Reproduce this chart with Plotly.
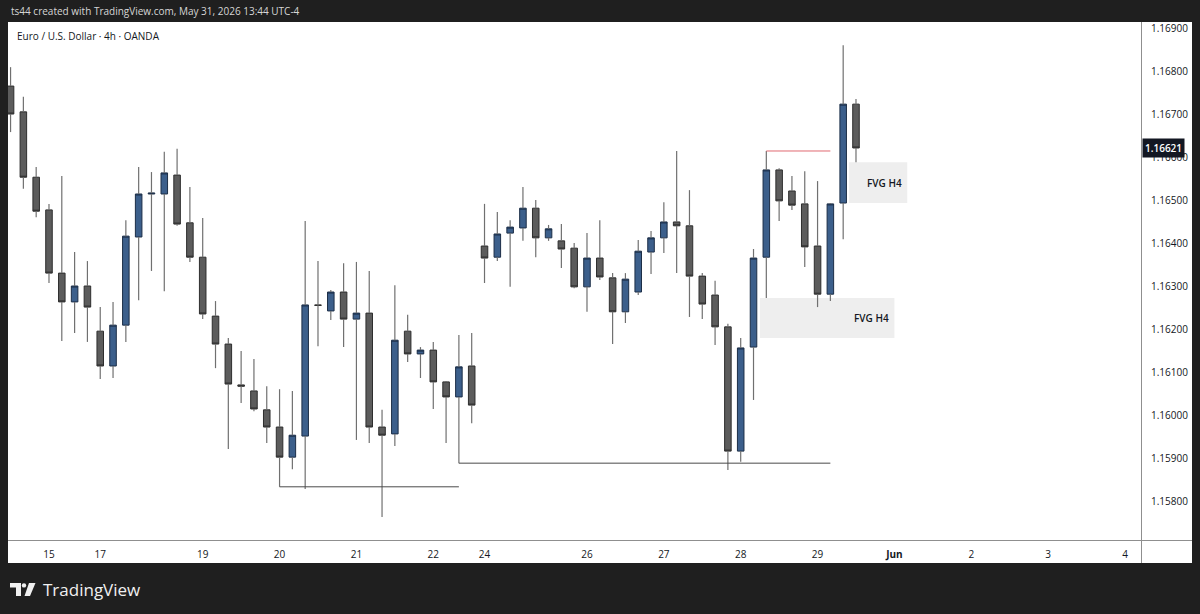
import plotly.graph_objects as go

W, H = 1200, 614

# ---- data (EUR/USD 4h, OANDA) : bar index 0 = Thu May 14 13:00 ----
opens = [1.16765, 1.16705, 1.16553, 1.16477, 1.16330, 1.16263, 1.16300, 1.16195, 1.16114, 1.16209,
         1.16414, 1.16514, 1.16514, 1.16558, 1.16447, 1.16367, 1.16230, 1.16165, 1.16070, 1.16056,
         1.16012, 1.15972, 1.15902, 1.15951, 1.16256, 1.16242, 1.16286, 1.16223, 1.16237, 1.15972,
         1.15956, 1.16195, 1.16142, 1.16151, 1.16077, 1.16042, 1.16114, 1.16393, 1.16367, 1.16423,
         1.16435, 1.16481, 1.16412, 1.16405, 1.16388, 1.16298, 1.16365, 1.16319, 1.16240, 1.16286,
         1.16379, 1.16412, 1.16449, 1.16440, 1.16323, 1.16279, 1.16205, 1.15916, 1.16158, 1.16367,
         1.16570, 1.16521, 1.16491, 1.16393, 1.16281, 1.16493, 1.16723]
highs = [1.16809, 1.16740, 1.16577, 1.16491, 1.16556, 1.16379, 1.16358, 1.16251, 1.16263, 1.16453,
         1.16577, 1.16565, 1.16612, 1.16619, 1.16530, 1.16458, 1.16265, 1.16179, 1.16149, 1.16130,
         1.16067, 1.16060, 1.16056, 1.16451, 1.16358, 1.16291, 1.16353, 1.16356, 1.16335, 1.16012,
         1.16302, 1.16233, 1.16158, 1.16170, 1.16079, 1.16186, 1.16191, 1.16491, 1.16472, 1.16453,
         1.16530, 1.16500, 1.16442, 1.16444, 1.16400, 1.16423, 1.16453, 1.16330, 1.16330, 1.16407,
         1.16428, 1.16495, 1.16614, 1.16523, 1.16330, 1.16312, 1.16212, 1.16179, 1.16386, 1.16614,
         1.16574, 1.16556, 1.16567, 1.16544, 1.16493, 1.16860, 1.16735]
lows = [1.16658, 1.16526, 1.16460, 1.16307, 1.16172, 1.16191, 1.16170, 1.16084, 1.16086, 1.16170,
        1.16267, 1.16335, 1.16288, 1.16440, 1.16356, 1.16223, 1.16109, 1.15921, 1.16028, 1.16009,
        1.15935, 1.15833, 1.15874, 1.15828, 1.16160, 1.16221, 1.16158, 1.15942, 1.15935, 1.15763,
        1.15928, 1.16123, 1.16086, 1.16014, 1.15935, 1.15888, 1.15981, 1.16307, 1.16358, 1.16298,
        1.16405, 1.16367, 1.16405, 1.16342, 1.16295, 1.16240, 1.16314, 1.16165, 1.16214, 1.16279,
        1.16328, 1.16377, 1.16330, 1.16228, 1.16223, 1.16163, 1.15872, 1.15891, 1.16035, 1.16272,
        1.16451, 1.16477, 1.16344, 1.16251, 1.16265, 1.16409, 1.16588]
closes = [1.16700, 1.16553, 1.16474, 1.16330, 1.16263, 1.16300, 1.16251, 1.16114, 1.16209, 1.16416,
          1.16514, 1.16516, 1.16563, 1.16444, 1.16367, 1.16235, 1.16165, 1.16072, 1.16067, 1.16014,
          1.15972, 1.15902, 1.15953, 1.16256, 1.16255, 1.16286, 1.16223, 1.16237, 1.15972, 1.15953,
          1.16174, 1.16142, 1.16151, 1.16077, 1.16042, 1.16112, 1.16023, 1.16365, 1.16421, 1.16437,
          1.16481, 1.16412, 1.16433, 1.16386, 1.16298, 1.16365, 1.16321, 1.16240, 1.16316, 1.16381,
          1.16412, 1.16449, 1.16440, 1.16323, 1.16258, 1.16205, 1.15916, 1.16156, 1.16365, 1.16570,
          1.16498, 1.16488, 1.16391, 1.16281, 1.16491, 1.16723, 1.16621]
bar_index = list(range(len(opens)))

# time-axis labels (bar index where each day starts, future days included)
day_tick_pos = [3, 7, 15, 21, 27, 33, 37, 45, 51, 57, 63, 69, 75, 81, 87]
day_tick_text = ["15", "17", "19", "20", "21", "22", "24", "26", "27", "28", "29", "<b>Jun</b>", "2", "3", "4"]

# price-axis labels
price_ticks = [1.158, 1.159, 1.160, 1.161, 1.162, 1.163, 1.164, 1.165, 1.166, 1.167, 1.168, 1.169]

# drawings: (start bar, end bar, anchor bar for level)
support_lines = [(21, 35, 21), (35, 64, 35)]
red_line = (59, 64, 59)
# FVG boxes: (bar whose high is bottom, bar whose low is top, x0, x1)
fvg_boxes = [(57, 59, 58.5, 69.0), (64, 66, 65.45, 70.0)]

# ---- geometry ----
px_l, px_r, py_t, py_b = 8, 1141, 22, 540
x_rng = [-0.2, 88.25]
y_rng = [1.157093, 1.169140]


def fx(px):
    return px / W


def fy(py):
    return 1 - py / H


BG = "#1f1f1f"
TXT = "#131722"
FONT = "Open Sans, Noto Sans, sans-serif"

fig = go.Figure()

# wicks (split so they do not cross bodies)
wx, wy = [], []
for i, o, h, l, c in zip(bar_index, opens, highs, lows, closes):
    top, bot = max(o, c), min(o, c)
    wx += [i, i, None, i, i, None]
    wy += [h, top, None, bot, l, None]
fig.add_trace(go.Scatter(x=wx, y=wy, mode="lines", line=dict(color="#707070", width=1.2),
                         hoverinfo="skip", showlegend=False))

body_hi = [max(o, c) for o, c in zip(opens, closes)]
body_lo = [min(o, c) for o, c in zip(opens, closes)]
fig.add_trace(go.Candlestick(
    x=bar_index, open=opens, high=body_hi, low=body_lo, close=closes,
    increasing=dict(fillcolor="#3c5f8b", line=dict(color="#1c2e47", width=1)),
    decreasing=dict(fillcolor="#5c5c5c", line=dict(color="#2e2e2e", width=1)),
    whiskerwidth=0, showlegend=False,
))

shapes = []
# white chart frame
shapes.append(dict(type="rect", xref="paper", yref="paper", x0=fx(8), x1=fx(1192), y0=fy(563), y1=fy(22),
                   fillcolor="white", line=dict(width=0), layer="below"))
# FVG boxes
for hb, lb, x0, x1 in fvg_boxes:
    shapes.append(dict(type="rect", xref="x", yref="y", x0=x0, x1=x1, y0=highs[hb], y1=lows[lb],
                       fillcolor="#eeeeee", line=dict(width=0), layer="below"))
# support lines
for s, e, a in support_lines:
    shapes.append(dict(type="line", xref="x", yref="y", x0=s, x1=e, y0=lows[a], y1=lows[a],
                       line=dict(color="#4a4a4a", width=1)))
# red high line
s, e, a = red_line
shapes.append(dict(type="line", xref="x", yref="y", x0=s, x1=e, y0=highs[a], y1=highs[a],
                   line=dict(color="#e06a72", width=1)))
# axis separators
shapes.append(dict(type="line", xref="paper", yref="paper", x0=fx(8), x1=fx(1192), y0=fy(540.5), y1=fy(540.5),
                   line=dict(color="#8f8f8f", width=1)))
shapes.append(dict(type="line", xref="paper", yref="paper", x0=fx(1141.5), x1=fx(1141.5), y0=fy(563), y1=fy(22),
                   line=dict(color="#8f8f8f", width=1)))
# TradingView logo glyph
shapes.append(dict(type="path", xref="paper", yref="paper",
                   path=f"M {fx(10)} {fy(583)} L {fx(21)} {fy(583)} L {fx(21)} {fy(596)} L {fx(16)} {fy(596)} "
                        f"L {fx(16)} {fy(587.5)} L {fx(10)} {fy(587.5)} Z",
                   fillcolor="#f0f0f0", line=dict(width=0)))
shapes.append(dict(type="circle", xref="paper", yref="paper", x0=fx(21.8), x1=fx(26.2), y0=fy(587.6), y1=fy(583.2),
                   fillcolor="#f0f0f0", line=dict(width=0)))
shapes.append(dict(type="path", xref="paper", yref="paper",
                   path=f"M {fx(29)} {fy(583)} L {fx(35.5)} {fy(583)} L {fx(30)} {fy(596)} L {fx(24.5)} {fy(596)} Z",
                   fillcolor="#f0f0f0", line=dict(width=0)))

annotations = [
    dict(text="ts44 created with TradingView.com, May 31, 2026 13:44 UTC-4", xref="paper", yref="paper",
         x=fx(9), y=fy(11), xanchor="left", yanchor="middle", showarrow=False,
         font=dict(family=FONT, size=10, color="#d6d6d6")),
    dict(text="Euro / U.S. Dollar · 4h · OANDA", xref="paper", yref="paper",
         x=fx(15), y=fy(36), xanchor="left", yanchor="middle", showarrow=False,
         font=dict(family=FONT, size=10, color=TXT)),
    dict(text=f"{closes[-1]:.5f}", xref="paper", yref="y", x=fx(1142), y=closes[-1],
         xanchor="left", yanchor="middle", showarrow=False, bgcolor="#131722", borderpad=2,
         font=dict(family=FONT, size=10, color="white", weight=600)),
    dict(text="TradingView", xref="paper", yref="paper", x=fx(41), y=fy(589.5),
         xanchor="left", yanchor="middle", showarrow=False,
         font=dict(family=FONT, size=17, color="#f0f0f0", weight=500)),
]
for hb, lb, x0, x1 in fvg_boxes:
    annotations.append(dict(text="FVG H4", xref="x", yref="y", x=x1 - 0.25, y=(highs[hb] + lows[lb]) / 2,
                            xanchor="right", yanchor="middle", showarrow=False,
                            font=dict(family=FONT, size=10, color=TXT, weight=600)))

fig.update_layout(
    width=W, height=H, margin=dict(l=0, r=0, t=0, b=0),
    paper_bgcolor=BG, plot_bgcolor="white",
    shapes=shapes, annotations=annotations, showlegend=False,
    boxgap=0.27,
    xaxis=dict(domain=[fx(px_l), fx(px_r)], range=x_rng, rangeslider=dict(visible=False),
               showgrid=False, zeroline=False, showline=False,
               tickmode="array", tickvals=day_tick_pos, ticktext=day_tick_text,
               ticks="", ticklabelstandoff=7, tickfont=dict(family=FONT, size=10, color=TXT)),
    yaxis=dict(domain=[fy(py_b), fy(py_t)], range=y_rng, side="right",
               showgrid=False, zeroline=False, showline=False,
               tickmode="array", tickvals=price_ticks, ticktext=[f"{v:.5f}" for v in price_ticks],
               ticks="", ticklabelstandoff=9, tickfont=dict(family=FONT, size=10, color=TXT)),
)

fig.write_html("out.html")
